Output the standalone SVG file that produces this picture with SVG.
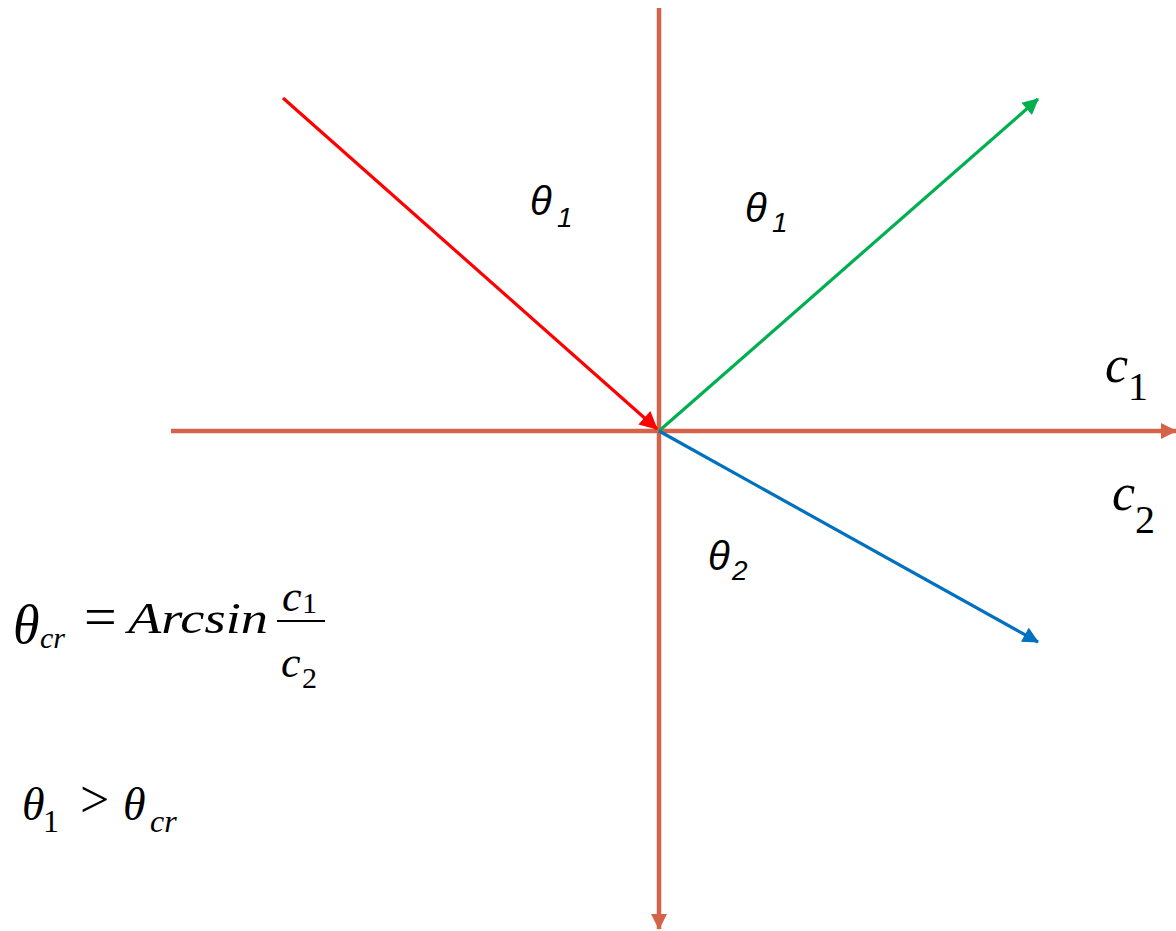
<svg xmlns="http://www.w3.org/2000/svg" width="1176" height="931" viewBox="0 0 1176 931">
<style>
.axis{stroke:#D5634A;stroke-width:4.5;fill:none}
.ray{stroke-width:3.2;fill:none}
</style>
<defs>
<marker id="aAxis" viewBox="0 0 16 16" refX="15" refY="8" markerWidth="17" markerHeight="16" markerUnits="userSpaceOnUse" orient="auto"><path d="M0,0 L16,8 L0,16 z" fill="#D5634A"/></marker>
<marker id="aRed" viewBox="0 0 16 16" refX="15" refY="8" markerWidth="20" markerHeight="18" markerUnits="userSpaceOnUse" orient="auto"><path d="M0,0 L16,8 L0,16 z" fill="#FF0000"/></marker>
<marker id="aGreen" viewBox="0 0 16 16" refX="15" refY="8" markerWidth="18" markerHeight="16" markerUnits="userSpaceOnUse" orient="auto"><path d="M0,0 L16,8 L0,16 z" fill="#00B050"/></marker>
<marker id="aBlue" viewBox="0 0 16 16" refX="15" refY="8" markerWidth="18" markerHeight="16" markerUnits="userSpaceOnUse" orient="auto"><path d="M0,0 L16,8 L0,16 z" fill="#0070C0"/></marker>
</defs>
<rect width="1176" height="931" fill="#fff"/>
<g id="connectors">
<line class="axis" x1="171" y1="431" x2="1176" y2="431" marker-end="url(#aAxis)"/>
<line class="axis" x1="659" y1="8" x2="659" y2="929" marker-end="url(#aAxis)"/>
<line class="ray" stroke="#FF0000" x1="283" y1="98" x2="657" y2="429" marker-end="url(#aRed)"/>
<line class="ray" stroke="#00B050" x1="659" y1="431" x2="1038" y2="99" marker-end="url(#aGreen)"/>
<line class="ray" stroke="#0070C0" x1="659" y1="431" x2="1038" y2="642" marker-end="url(#aBlue)"/>
</g>
<g id="labels-sans" font-family="'Liberation Sans', Arial, sans-serif" font-style="italic" fill="#000">
<g id="label-theta1-left"><text x="530" y="215" font-size="40">θ</text><text x="557" y="227" font-size="28">1</text></g>
<g id="label-theta1-right"><text x="745" y="222" font-size="40">θ</text><text x="772" y="232" font-size="28">1</text></g>
<g id="label-theta2"><text x="708" y="570" font-size="40">θ</text><text x="732" y="580" font-size="28">2</text></g>
</g>
<g id="labels-serif" font-family="'Liberation Serif', 'Times New Roman', serif" fill="#000">
<g id="label-c1"><text font-style="italic" x="1105" y="382" font-size="52">c</text><text x="1128" y="400" font-size="40">1</text></g>
<g id="label-c2"><text font-style="italic" x="1112" y="510" font-size="52">c</text><text x="1135" y="533" font-size="40">2</text></g>
<g id="formula-critical">
<text font-style="italic" x="13" y="643" font-size="54">θ</text>
<text font-style="italic" x="40" y="648" font-size="30">cr</text>
<text x="84" y="636" font-size="58">=</text>
<text font-style="italic" x="128" y="633" font-size="44" textLength="140" lengthAdjust="spacingAndGlyphs">Arcsin</text>
<line x1="277" y1="621" x2="325" y2="621" stroke="#000" stroke-width="2"/>
<text font-style="italic" x="282" y="611" font-size="44">c</text>
<text x="302" y="613" font-size="30">1</text>
<text font-style="italic" x="281" y="677" font-size="44">c</text>
<text x="302" y="688" font-size="30">2</text>
</g>
<g id="formula-condition">
<text font-style="italic" x="22" y="820" font-size="46">θ</text>
<text x="43" y="832" font-size="32">1</text>
<text x="80" y="817" font-size="52">&gt;</text>
<text font-style="italic" x="123" y="820" font-size="46">θ</text>
<text font-style="italic" x="150" y="832" font-size="32">cr</text>
</g>
</g>
</svg>
